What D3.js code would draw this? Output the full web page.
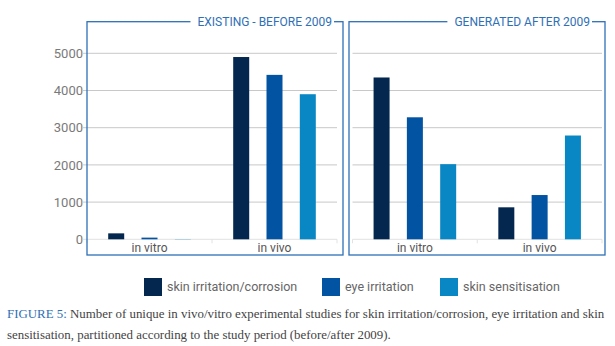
<!DOCTYPE html>
<html>
<head>
<meta charset="utf-8">
<script src="https://cdn.jsdelivr.net/npm/d3@7"></script>
<style>
  body { margin: 0; background: #fff; }
  svg { display: block; }
</style>
</head>
<body>
<div class="container"></div>
<script>
// grouped bars, two period panels

var categories = ["in vitro", "in vivo"];
var series = ["skin irritation/corrosion", "eye irritation", "skin sensitisation"];
var before2009 = [[160, 45, 6], [4900, 4420, 3900]];
var after2009 = [[4350, 3280, 2020], [860, 1190, 2790]];
var yTicks = [0, 1000, 2000, 3000, 4000, 5000];
var panelTitles = ["EXISTING - BEFORE 2009", "GENERATED AFTER 2009"];

var width = 615, height = 346;
var colors = ["#03274f", "#0353a3", "#0987c4"];
var frameColor = "#2f6fb6";
var sans = "Roboto, 'Open Sans', sans-serif";
var serif = "'Liberation Serif', 'DejaVu Serif', serif";

var svg = d3.select(".container").append("svg")
    .attr("width", width)
    .attr("height", height);

var y = d3.scaleLinear().domain([0, 5000]).range([239.3, 53.3]);

var panels = [
    {data: before2009, title: panelTitles[0], box: [87, 343], plot: [87, 337], titleEnd: 332},
    {data: after2009, title: panelTitles[1], box: [349, 605], plot: [352.5, 602], titleEnd: 590}
];
var boxTop = 21.7, boxBottom = 255;

var inner = d3.scalePoint().domain(series).range([-33.3, 33.3]);
var barW = 16;

// y axis labels (left of first panel)
svg.append("g")
    .selectAll("text")
    .data(yTicks)
    .enter().append("text")
    .attr("x", 83)
    .attr("y", function(d) { return y(d); })
    .attr("dy", "0.36em")
    .attr("text-anchor", "end")
    .style("font-family", sans)
    .style("font-size", "13px")
    .style("fill", "#7a7a7a")
    .text(function(d) { return d; });

panels.forEach(function(p, pi)
{
    var g = svg.append("g");
    var x = d3.scaleBand().domain(categories).range(p.plot);

    // gridlines
    g.selectAll("line.grid")
        .data(yTicks.filter(function(d) { return d > 0; }))
        .enter().append("line")
        .attr("x1", pi == 0 ? 83 : p.plot[0])
        .attr("x2", p.plot[1])
        .attr("y1", function(d) { return y(d); })
        .attr("y2", function(d) { return y(d); })
        .style("stroke", "#c8c8c8")
        .style("stroke-width", 1);

    // baseline + category ticks
    g.append("line")
        .attr("x1", pi == 0 ? 83 : p.plot[0]).attr("x2", p.plot[1])
        .attr("y1", y(0)).attr("y2", y(0))
        .style("stroke", "#e2e2e2");
    g.selectAll("line.ctick")
        .data([p.plot[0]].concat(categories.map(function(c) { return x(c) + x.bandwidth(); })))
        .enter().append("line")
        .attr("x1", function(d) { return d; }).attr("x2", function(d) { return d; })
        .attr("y1", y(0)).attr("y2", y(0) + 4)
        .style("stroke", "#e2e2e2");

    // bars
    categories.forEach(function(c, ci)
    {
        g.selectAll(null)
            .data(p.data[ci])
            .enter().append("rect")
            .attr("x", function(d, i) { return x(c) + x.bandwidth() / 2 + inner(series[i]) - barW / 2; })
            .attr("y", function(d) { return y(d); })
            .attr("width", barW)
            .attr("height", function(d) { return y(0) - y(d); })
            .style("fill", function(d, i) { return colors[i]; });
    });

    // category labels
    g.selectAll("text.cat")
        .data(categories)
        .enter().append("text")
        .attr("x", function(d) { return x(d) + x.bandwidth() / 2; })
        .attr("y", 248)
        .attr("dy", "0.35em")
        .attr("text-anchor", "middle")
        .style("font-family", sans)
        .style("font-size", "12px")
        .style("fill", "#555")
        .text(function(d) { return d; });

    // frame
    g.append("rect")
        .attr("x", p.box[0]).attr("y", boxTop)
        .attr("width", p.box[1] - p.box[0]).attr("height", boxBottom - boxTop)
        .style("fill", "none")
        .style("stroke", frameColor)
        .style("stroke-width", 1.3);

    var t = g.append("text")
        .attr("x", p.titleEnd)
        .attr("y", boxTop)
        .attr("dy", "0.35em")
        .attr("text-anchor", "end")
        .style("font-family", sans)
        .style("font-size", "12px")
        .style("fill", frameColor)
        .text(p.title);
    var bb = t.node().getBBox();
    g.insert("rect", "text:last-child")
        .attr("x", bb.x - 7).attr("y", boxTop - 3)
        .attr("width", bb.width + 9).attr("height", 6)
        .style("fill", "#fff");
});

// legend
var legendX = [144, 322, 440];
var legend = svg.append("g").selectAll("g")
    .data(series)
    .enter().append("g")
    .attr("transform", function(d, i) { return "translate(" + legendX[i] + ",278)"; });
legend.append("rect")
    .attr("width", 18).attr("height", 18)
    .style("fill", function(d, i) { return colors[i]; });
legend.append("text")
    .attr("x", 23).attr("y", 9).attr("dy", "0.35em")
    .style("font-family", sans)
    .style("font-size", "12.5px")
    .style("fill", "#666")
    .text(function(d) { return d; });

// caption
var cap = svg.append("text")
    .attr("x", 7).attr("y", 318)
    .style("font-family", serif)
    .style("font-size", "12.9px")
    .style("fill", "#444");
cap.append("tspan").style("fill", "#2f6fb6").text("FIGURE 5: ");
cap.append("tspan").text("Number of unique in vivo/vitro experimental studies for skin irritation/corrosion, eye irritation and skin");
svg.append("text")
    .attr("x", 7).attr("y", 339)
    .style("font-family", serif)
    .style("font-size", "12.9px")
    .style("fill", "#444")
    .text("sensitisation, partitioned according to the study period (before/after 2009).");
</script>
</body>
</html>
